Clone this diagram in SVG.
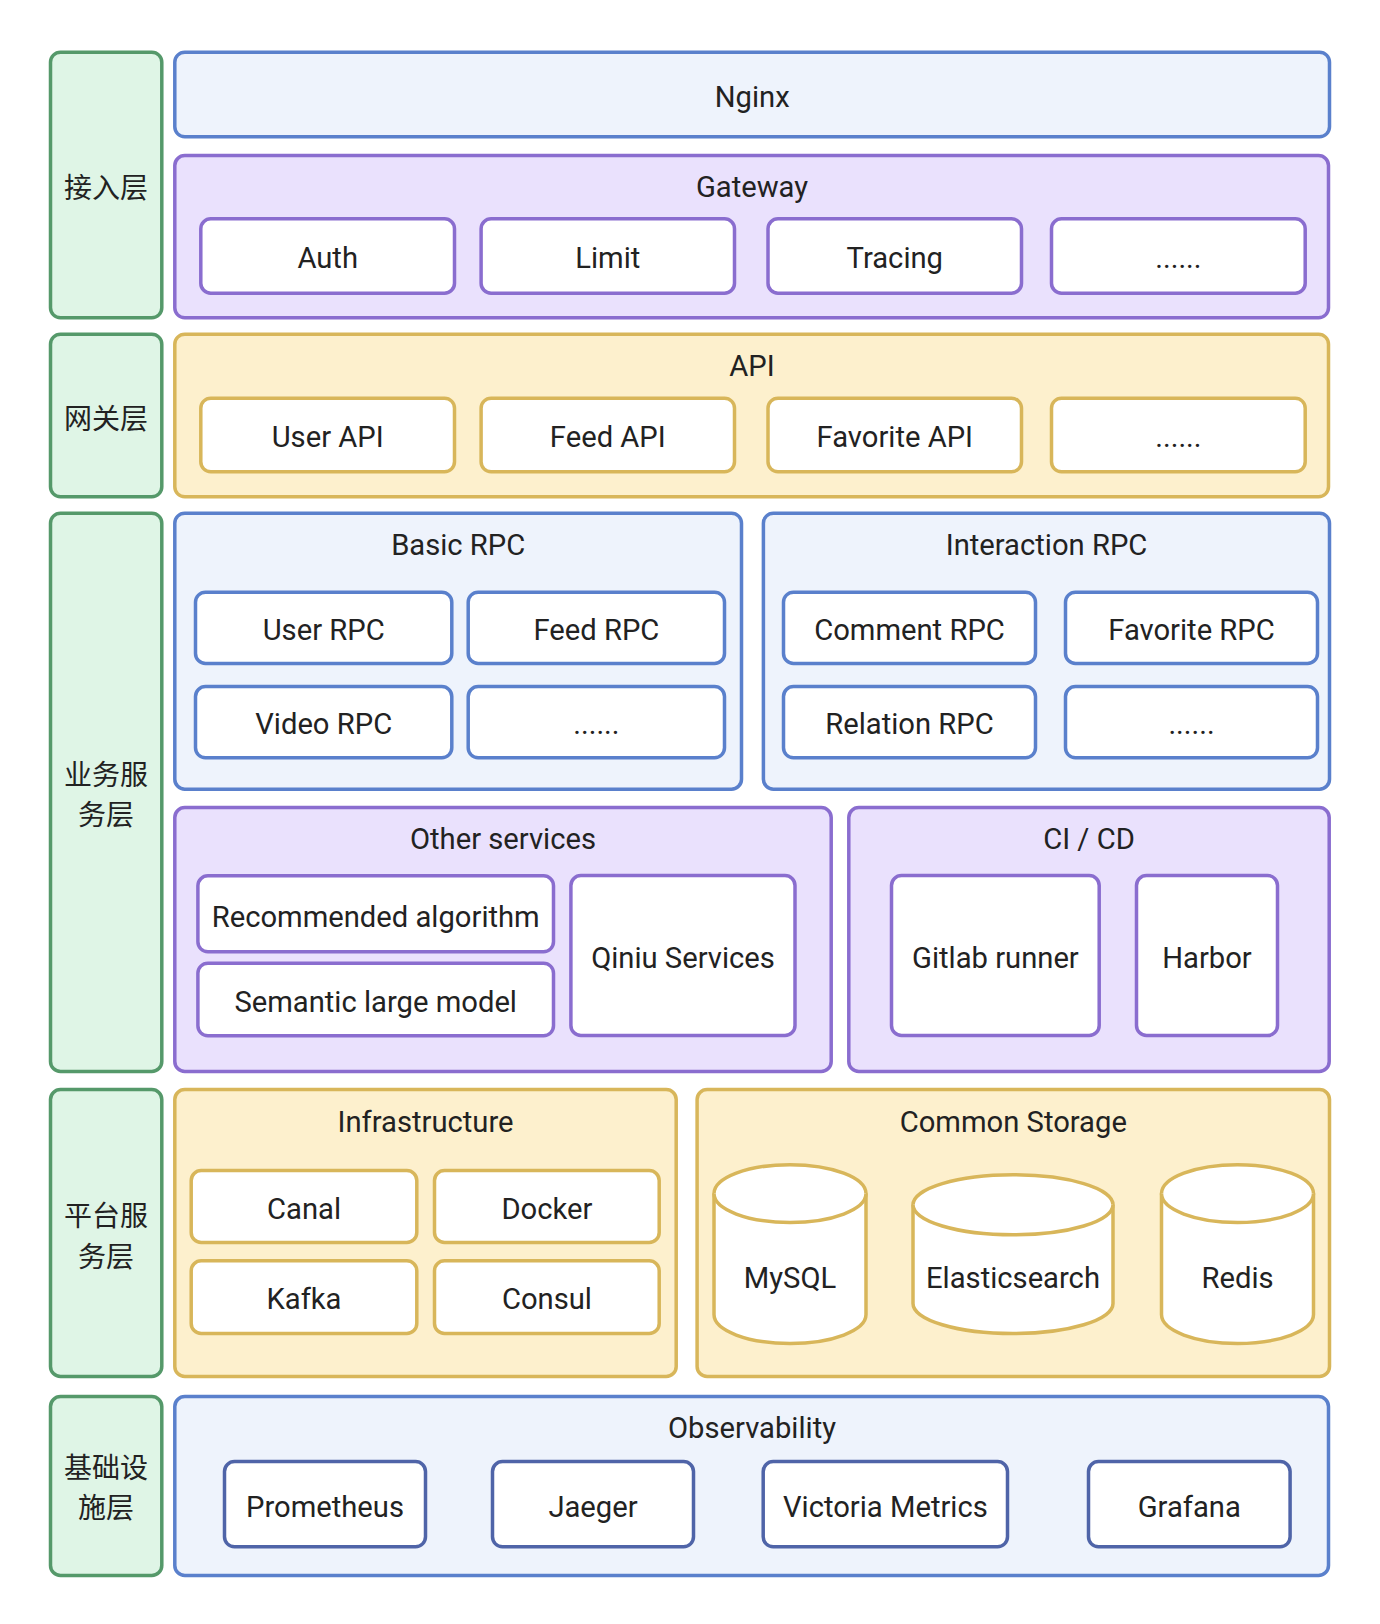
<svg xmlns="http://www.w3.org/2000/svg" width="1380" height="1624" viewBox="0 0 1380 1624">
  <style>
    .lay { fill: #dff5e6; stroke: #55996a; stroke-width: 3.5; }
    .gb { fill: #eef3fc; stroke: #5a80cc; stroke-width: 3.5; }
    .gp { fill: #eae1fd; stroke: #8a6dcf; stroke-width: 3.5; }
    .gy { fill: #fdf0cd; stroke: #d8b65a; stroke-width: 3.5; }
    .ib { fill: #ffffff; stroke: #5a80cc; stroke-width: 3.5; }
    .ip { fill: #ffffff; stroke: #8a6dcf; stroke-width: 3.5; }
    .iy { fill: #ffffff; stroke: #d8b65a; stroke-width: 3.5; }
    .io { fill: #ffffff; stroke: #4f64a8; stroke-width: 3.5; }
    .t { font-family: Roboto, "Noto Sans", sans-serif; font-size: 29.2px; fill: #222222; text-anchor: middle; }
    .c { font-family: "Noto Sans CJK SC", "Noto Sans", sans-serif; font-size: 28px; fill: #222222; text-anchor: middle; }
  </style>

  <!-- layer labels -->
  <g id="layer-access">
    <rect class="lay" x="50.5" y="52.2" width="111.3" height="265.6" rx="10"/>
    <text class="c" x="106" y="198">接入层</text>
  </g>
  <g id="layer-gateway">
    <rect class="lay" x="50.5" y="334.2" width="111.3" height="162.6" rx="10"/>
    <text class="c" x="106" y="429">网关层</text>
  </g>
  <g id="layer-business">
    <rect class="lay" x="50.5" y="513.2" width="111.3" height="558.3" rx="10"/>
    <text class="c" x="106" y="784.5">业务服</text>
    <text class="c" x="106" y="825">务层</text>
  </g>
  <g id="layer-platform">
    <rect class="lay" x="50.5" y="1089.5" width="111.3" height="287" rx="10"/>
    <text class="c" x="106" y="1225.5">平台服</text>
    <text class="c" x="106" y="1266.5">务层</text>
  </g>
  <g id="layer-infra">
    <rect class="lay" x="50.5" y="1396.5" width="111.3" height="179" rx="10"/>
    <text class="c" x="106" y="1478">基础设</text>
    <text class="c" x="106" y="1518">施层</text>
  </g>

  <!-- access layer -->
  <g id="nginx">
    <rect class="gb" x="174.8" y="52.2" width="1154.7" height="84.6" rx="10"/>
    <text class="t" x="752.2" y="106.5">Nginx</text>
  </g>
  <g id="gateway">
    <rect class="gp" x="174.8" y="155.5" width="1153.7" height="162.3" rx="10"/>
    <text class="t" x="752" y="197">Gateway</text>
  </g>
  <g id="auth">
    <rect class="ip" x="200.8" y="218.8" width="253.7" height="74.4" rx="10"/>
    <text class="t" x="327.7" y="268.3">Auth</text>
  </g>
  <g id="limit">
    <rect class="ip" x="481.1" y="218.8" width="253.4" height="74.4" rx="10"/>
    <text class="t" x="607.8" y="268.3">Limit</text>
  </g>
  <g id="tracing">
    <rect class="ip" x="768" y="218.8" width="253.5" height="74.4" rx="10"/>
    <text class="t" x="894.8" y="268.3">Tracing</text>
  </g>
  <g id="gateway-more">
    <rect class="ip" x="1051.5" y="218.8" width="253.7" height="74.4" rx="10"/>
    <text class="t" x="1178.4" y="268.3">......</text>
  </g>

  <!-- gateway layer -->
  <g id="api">
    <rect class="gy" x="174.8" y="334.2" width="1153.7" height="162.6" rx="10"/>
    <text class="t" x="752" y="376">API</text>
  </g>
  <g id="user-api">
    <rect class="iy" x="200.8" y="398.2" width="253.7" height="73.6" rx="10"/>
    <text class="t" x="327.7" y="447">User API</text>
  </g>
  <g id="feed-api">
    <rect class="iy" x="481.1" y="398.2" width="253.4" height="73.6" rx="10"/>
    <text class="t" x="607.8" y="447">Feed API</text>
  </g>
  <g id="favorite-api">
    <rect class="iy" x="768" y="398.2" width="253.5" height="73.6" rx="10"/>
    <text class="t" x="894.8" y="447">Favorite API</text>
  </g>
  <g id="api-more">
    <rect class="iy" x="1051.5" y="398.2" width="253.7" height="73.6" rx="10"/>
    <text class="t" x="1178.4" y="447">......</text>
  </g>

  <!-- business layer -->
  <g id="basic-rpc">
    <rect class="gb" x="174.8" y="513.2" width="566.7" height="276" rx="10"/>
    <text class="t" x="458.2" y="555">Basic RPC</text>
  </g>
  <g id="user-rpc">
    <rect class="ib" x="195.5" y="592.2" width="256.3" height="71.3" rx="10"/>
    <text class="t" x="323.7" y="640">User RPC</text>
  </g>
  <g id="feed-rpc">
    <rect class="ib" x="468.2" y="592.2" width="256.3" height="71.3" rx="10"/>
    <text class="t" x="596.4" y="640">Feed RPC</text>
  </g>
  <g id="video-rpc">
    <rect class="ib" x="195.5" y="686.5" width="256.3" height="71.3" rx="10"/>
    <text class="t" x="323.7" y="734">Video RPC</text>
  </g>
  <g id="basic-more">
    <rect class="ib" x="468.2" y="686.5" width="256.3" height="71.3" rx="10"/>
    <text class="t" x="596.4" y="734">......</text>
  </g>

  <g id="interaction-rpc">
    <rect class="gb" x="763.4" y="513.2" width="566.1" height="276" rx="10"/>
    <text class="t" x="1046.5" y="555">Interaction RPC</text>
  </g>
  <g id="comment-rpc">
    <rect class="ib" x="783.5" y="592.2" width="252" height="71.3" rx="10"/>
    <text class="t" x="909.5" y="640">Comment RPC</text>
  </g>
  <g id="favorite-rpc">
    <rect class="ib" x="1065.5" y="592.2" width="252" height="71.3" rx="10"/>
    <text class="t" x="1191.5" y="640">Favorite RPC</text>
  </g>
  <g id="relation-rpc">
    <rect class="ib" x="783.5" y="686.5" width="252" height="71.3" rx="10"/>
    <text class="t" x="909.5" y="734">Relation RPC</text>
  </g>
  <g id="interaction-more">
    <rect class="ib" x="1065.5" y="686.5" width="252" height="71.3" rx="10"/>
    <text class="t" x="1191.5" y="734">......</text>
  </g>

  <g id="other-services">
    <rect class="gp" x="174.8" y="807.5" width="656.4" height="264" rx="10"/>
    <text class="t" x="503" y="849.3">Other services</text>
  </g>
  <g id="recommended-algorithm">
    <rect class="ip" x="197.9" y="875.8" width="355.6" height="76" rx="10"/>
    <text class="t" x="375.7" y="926.5">Recommended algorithm</text>
  </g>
  <g id="semantic-large-model">
    <rect class="ip" x="197.9" y="963.2" width="355.6" height="72.6" rx="10"/>
    <text class="t" x="375.7" y="1011.5">Semantic large model</text>
  </g>
  <g id="qiniu-services">
    <rect class="ip" x="570.9" y="875.5" width="224.1" height="160" rx="10"/>
    <text class="t" x="683" y="968.3">Qiniu Services</text>
  </g>

  <g id="ci-cd">
    <rect class="gp" x="848.8" y="807.5" width="480.4" height="264" rx="10"/>
    <text class="t" x="1089" y="849.3">CI / CD</text>
  </g>
  <g id="gitlab-runner">
    <rect class="ip" x="891.5" y="875.5" width="207.7" height="160" rx="10"/>
    <text class="t" x="995.4" y="967.7">Gitlab runner</text>
  </g>
  <g id="harbor">
    <rect class="ip" x="1136.5" y="875.5" width="141" height="160" rx="10"/>
    <text class="t" x="1207" y="967.7">Harbor</text>
  </g>

  <!-- platform layer -->
  <g id="infrastructure">
    <rect class="gy" x="174.8" y="1089.5" width="501.4" height="287" rx="10"/>
    <text class="t" x="425.5" y="1131.7">Infrastructure</text>
  </g>
  <g id="canal">
    <rect class="iy" x="191.2" y="1170.5" width="225.6" height="72" rx="10"/>
    <text class="t" x="304" y="1218.5">Canal</text>
  </g>
  <g id="docker">
    <rect class="iy" x="434.5" y="1170.5" width="224.7" height="72" rx="10"/>
    <text class="t" x="546.9" y="1218.5">Docker</text>
  </g>
  <g id="kafka">
    <rect class="iy" x="191.2" y="1260.8" width="225.6" height="72.7" rx="10"/>
    <text class="t" x="304" y="1309">Kafka</text>
  </g>
  <g id="consul">
    <rect class="iy" x="434.5" y="1260.8" width="224.7" height="72.7" rx="10"/>
    <text class="t" x="546.9" y="1309">Consul</text>
  </g>

  <g id="common-storage">
    <rect class="gy" x="697.1" y="1089.5" width="632.4" height="287" rx="10"/>
    <text class="t" x="1013.3" y="1131.7">Common Storage</text>
  </g>
  <g id="mysql">
    <path class="iy" d="M714,1193.6 A76,28.9 0 0 1 866,1193.6 L866,1314.6 A76,28.9 0 0 1 714,1314.6 Z"/>
    <path class="iy" fill="none" d="M714,1193.6 A76,28.9 0 0 0 866,1193.6"/>
    <text class="t" x="790" y="1288.3">MySQL</text>
  </g>
  <g id="elasticsearch">
    <path class="iy" d="M913,1204.8 A100,30 0 0 1 1113,1204.8 L1113,1303.5 A100,30 0 0 1 913,1303.5 Z"/>
    <path class="iy" fill="none" d="M913,1204.8 A100,30 0 0 0 1113,1204.8"/>
    <text class="t" x="1013" y="1288.3">Elasticsearch</text>
  </g>
  <g id="redis">
    <path class="iy" d="M1161.5,1193.6 A76,28.9 0 0 1 1313.5,1193.6 L1313.5,1314.6 A76,28.9 0 0 1 1161.5,1314.6 Z"/>
    <path class="iy" fill="none" d="M1161.5,1193.6 A76,28.9 0 0 0 1313.5,1193.6"/>
    <text class="t" x="1237.5" y="1288.3">Redis</text>
  </g>

  <!-- infrastructure layer -->
  <g id="observability">
    <rect class="gb" x="174.8" y="1396.5" width="1153.7" height="179" rx="10"/>
    <text class="t" x="752" y="1438.3">Observability</text>
  </g>
  <g id="prometheus">
    <rect class="io" x="224.5" y="1461.5" width="201" height="85.3" rx="10"/>
    <text class="t" x="325" y="1516.5">Prometheus</text>
  </g>
  <g id="jaeger">
    <rect class="io" x="492.5" y="1461.5" width="201" height="85.3" rx="10"/>
    <text class="t" x="593" y="1516.5">Jaeger</text>
  </g>
  <g id="victoria-metrics">
    <rect class="io" x="763.2" y="1461.5" width="244.3" height="85.3" rx="10"/>
    <text class="t" x="885.4" y="1516.5">Victoria Metrics</text>
  </g>
  <g id="grafana">
    <rect class="io" x="1088.5" y="1461.5" width="201.6" height="85.3" rx="10"/>
    <text class="t" x="1189.3" y="1516.5">Grafana</text>
  </g>

  <g id="connectors"></g>
</svg>
